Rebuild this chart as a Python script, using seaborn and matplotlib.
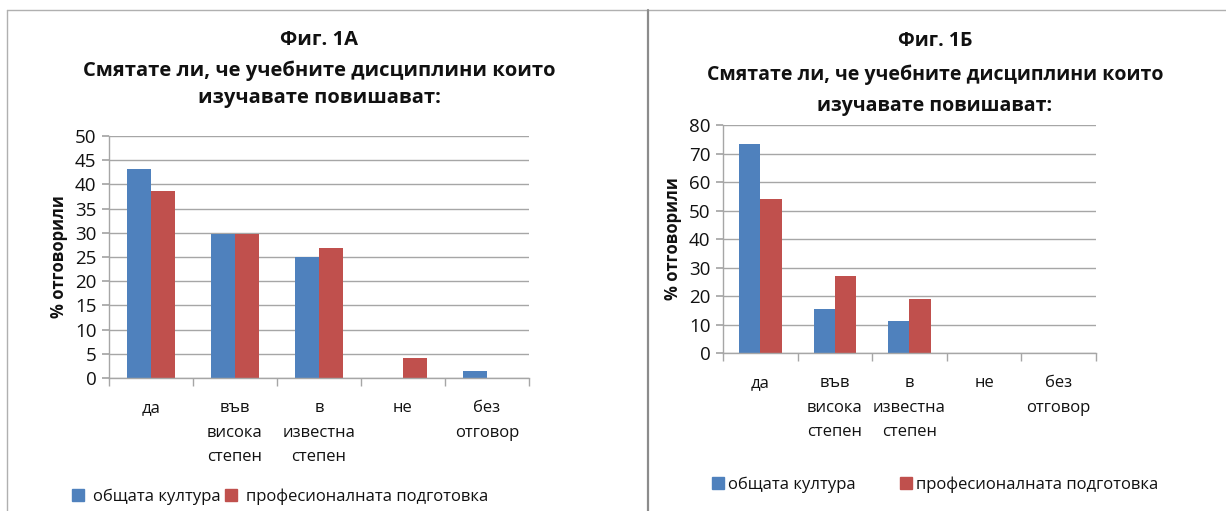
import pandas as pd
import matplotlib.pyplot as plt
import seaborn as sns
from matplotlib.lines import Line2D

# Categories and series
categories = ["да", "във\nвисока\nстепен", "в\nизвестна\nстепен", "не", "без\nотговор"]
series_names = ["общата култура", "професионалната подготовка"]

# Фиг. 1А
culture_a = [43.1, 29.8, 25.1, 0, 1.4]
prof_a = [38.6, 29.8, 26.8, 4.2, 0]

# Фиг. 1Б
culture_b = [73.2, 15.4, 11.4, 0, 0]
prof_b = [54.0, 27.1, 19.1, 0, 0]

colors = ["#4F81BD", "#C0504D"]
grid_gray = "#A6A6A6"
text_col = "#111111"

sns.set_theme(style="white")
plt.rcParams["font.family"] = ["Open Sans", "DejaVu Sans"]


def long_df(culture, prof):
    return pd.DataFrame({
        "категория": categories * 2,
        "серия": [series_names[0]] * len(categories) + [series_names[1]] * len(categories),
        "процент": culture + prof,
    })


def draw_panel(ax, df, ymax, ystep):
    sns.barplot(data=df, x="категория", y="процент", hue="серия",
                palette=colors, width=0.57, saturation=1, linewidth=0,
                ax=ax, legend=False)
    ax.set_ylim(0, ymax)
    ax.set_yticks(range(0, ymax + 1, ystep))
    ax.yaxis.grid(True, color=grid_gray, linewidth=1)
    ax.set_axisbelow(True)
    for s in ["top", "right"]:
        ax.spines[s].set_visible(False)
    for s in ["left", "bottom"]:
        ax.spines[s].set_color(grid_gray)
        ax.spines[s].set_linewidth(1)
    ax.set_xticks(range(len(categories)))
    ax.set_xticklabels(categories, fontsize=12, color=text_col, linespacing=1.7, va="top")
    ax.set_xticks([i - 0.5 for i in range(len(categories) + 1)], minor=True)
    ax.tick_params(axis="x", which="major", length=0, pad=16)
    ax.tick_params(axis="x", which="minor", length=6, color=grid_gray, direction="out", bottom=True)
    ax.tick_params(axis="y", length=5, color=grid_gray, direction="out", left=True,
                   labelsize=13.5, labelcolor=text_col, pad=4)
    ax.set_xlabel("")
    ax.set_ylabel("% отговорили", fontsize=12, fontweight="bold", color=text_col, labelpad=5)
    ax.set_xlim(-0.5, len(categories) - 0.5)


fig = plt.figure(figsize=(12.26, 5.11), dpi=100)
W, H = 1226, 511

ax1 = fig.add_axes([109 / W, 1 - 378 / H, 420 / W, 242 / H])
ax2 = fig.add_axes([723 / W, 1 - 353 / H, 373 / W, 228 / H])

draw_panel(ax1, long_df(culture_a, prof_a), 50, 5)
draw_panel(ax2, long_df(culture_b, prof_b), 80, 10)

# titles
title_kw = dict(ha="center", va="center", fontweight="bold", color=text_col)
fig.text(319 / W, 1 - 40 / H, "Фиг. 1А", fontsize=14.5, **title_kw)
fig.text(319 / W, 1 - 71 / H, "Смятате ли, че учебните дисциплини които", fontsize=14.5, **title_kw)
fig.text(319 / W, 1 - 98 / H, "изучавате повишават:", fontsize=14.5, **title_kw)
fig.text(935 / W, 1 - 41 / H, "Фиг. 1Б", fontsize=14, **title_kw)
fig.text(935 / W, 1 - 75 / H, "Смятате ли, че учебните дисциплини които", fontsize=14, **title_kw)
fig.text(935 / W, 1 - 106 / H, "изучавате повишават:", fontsize=14, **title_kw)

# legends
handles = [Line2D([], [], marker="s", linestyle="", markersize=8, color=c) for c in colors]
fig.legend(handles, series_names, loc="center", bbox_to_anchor=(280 / W, 1 - 497 / H),
           ncol=2, frameon=False, fontsize=12, handlelength=0.8, handletextpad=0.5,
           columnspacing=0.2, labelcolor=text_col)
fig.legend(handles, series_names, loc="center", bbox_to_anchor=(935 / W, 1 - 485 / H),
           ncol=2, frameon=False, fontsize=12, handlelength=0.8, handletextpad=0.2,
           columnspacing=2.6, labelcolor=text_col)

# panel frames
fig.add_artist(Line2D([7 / W, 7 / W], [0, 1 - 10 / H], color="#B0B0B0", linewidth=1))
fig.add_artist(Line2D([7 / W, 1], [1 - 10 / H, 1 - 10 / H], color="#B0B0B0", linewidth=1))
fig.add_artist(Line2D([648 / W, 648 / W], [0, 1 - 10 / H], color="#8C8C8C", linewidth=1.6))

fig.savefig("out.png", dpi=100, facecolor="white")
